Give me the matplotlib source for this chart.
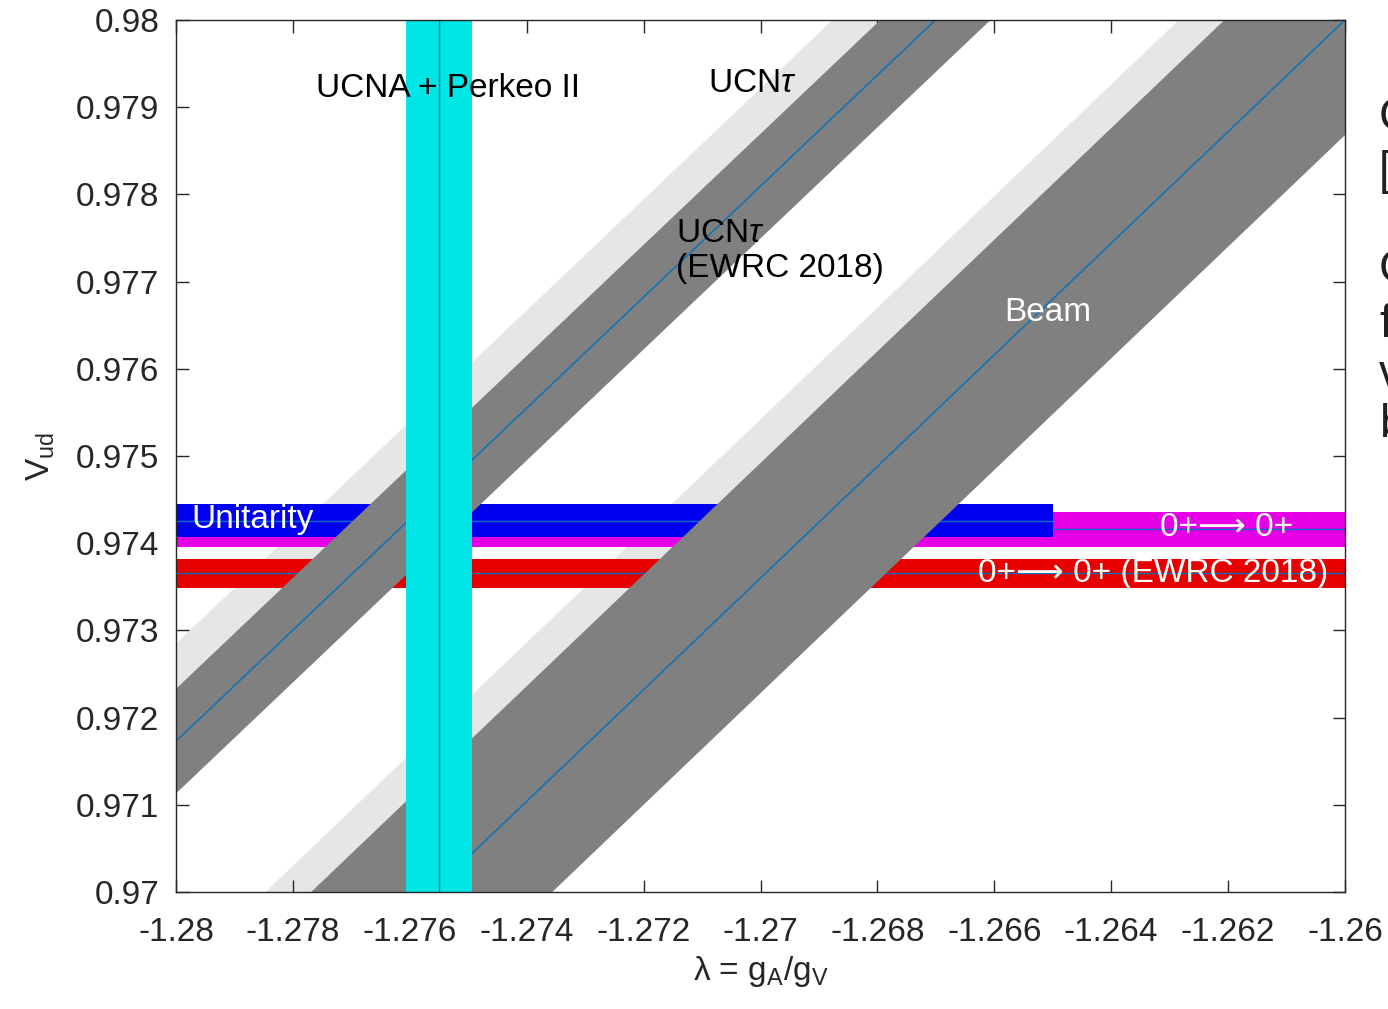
import matplotlib
matplotlib.use('Agg')
import matplotlib.pyplot as plt
from matplotlib.ticker import FuncFormatter, MultipleLocator

plt.rcParams['font.family'] = ['Liberation Sans', 'DejaVu Sans']
plt.rcParams['mathtext.fontset'] = 'custom'
plt.rcParams['mathtext.rm'] = 'Liberation Sans'
plt.rcParams['mathtext.it'] = 'Liberation Sans:italic'
plt.rcParams['axes.unicode_minus'] = False

# lambda range spanned by the diagonal bands
lam_ends = [-1.28, -1.26]

# neutron lifetime bands: Vud along the band centre at the two ends
ucn_center = [0.97173, 0.98446]
ucn_half = 0.0006
ucn_old_shift = 0.00052          # UCNtau with the older radiative correction
beam_center = [0.9672, 0.98]
beam_half = 0.00132
beam_old_shift = 0.0005

# horizontal Vud bands: (centre, half width)
unitarity = (0.97426, 0.00019)
unitarity_lam = [-1.28, -1.265]
superallowed = (0.97416, 0.0002)
superallowed_ewrc = (0.973655, 0.000165)

# lambda from UCNA + Perkeo II
lam_meas = -1.2755
lam_err = 0.00056

dark = '#808080'
light = '#e6e6e6'
line_c = '#0072bd'

fig = plt.figure(figsize=(13.88, 10.09), dpi=100)
ax = fig.add_axes([176 / 1388, 117 / 1009, 1169 / 1388, 872 / 1009])

# light bands sit underneath the horizontal bands
for center, shift, half in [(ucn_center, ucn_old_shift, ucn_half),
                            (beam_center, beam_old_shift, beam_half)]:
    lo = [c + shift - half for c in center]
    hi = [c + shift + half for c in center]
    ax.fill_between(lam_ends, lo, hi, color=light, lw=0, zorder=1)

ax.fill_between(lam_ends, superallowed[0] - superallowed[1],
                superallowed[0] + superallowed[1], color='#e600e6', lw=0, zorder=2)
ax.plot(lam_ends, [superallowed[0]] * 2, color=line_c, lw=1, zorder=2.1)
ax.fill_between(unitarity_lam, unitarity[0] - unitarity[1], unitarity[0] + unitarity[1],
                color='#0000f0', lw=0, zorder=2.2)
ax.plot(unitarity_lam, [unitarity[0]] * 2, color=line_c, lw=1, zorder=2.3)
ax.fill_between(lam_ends, superallowed_ewrc[0] - superallowed_ewrc[1],
                superallowed_ewrc[0] + superallowed_ewrc[1], color='#e60000', lw=0, zorder=2.2)
ax.plot(lam_ends, [superallowed_ewrc[0]] * 2, color=line_c, lw=1, zorder=2.3)

# current lifetime bands on top
for center, half in [(ucn_center, ucn_half), (beam_center, beam_half)]:
    ax.fill_between(lam_ends, [c - half for c in center], [c + half for c in center],
                    color=dark, lw=0, zorder=3)
    ax.plot(lam_ends, center, color=line_c, lw=1, zorder=3.1)

ax.axvspan(lam_meas - lam_err, lam_meas + lam_err, color='#00e5e5', lw=0, zorder=4)
ax.axvline(lam_meas, color=line_c, lw=1, zorder=4.1)

fs = 24
ax.text(-1.2776, 0.97921, 'UCNA + Perkeo II', fontsize=fs, va='center', zorder=5)
ax.text(-1.2709, 0.97927, r'UCN$\tau$', fontsize=fs, va='center', zorder=5)
ax.text(-1.27145, 0.97735, 'UCN$\\tau$\n(EWRC 2018)', fontsize=fs, va='center',
        linespacing=1.15, zorder=5)
ax.text(-1.26583, 0.97664, 'Beam', fontsize=fs, va='center', color='white', zorder=5)
ax.text(-1.27974, 0.97427, 'Unitarity', fontsize=fs, va='center', color='white', zorder=5)
ax.text(-1.26317, 0.97418, '0+\u27f6 0+', fontsize=fs, va='center', color='white', zorder=5)
ax.text(-1.26628, 0.97365, '0+\u27f6 0+ (EWRC 2018)', fontsize=fs, va='center',
        color='white', zorder=5)

ax.set_xlim(-1.28, -1.26)
ax.set_ylim(0.97, 0.98)
ax.xaxis.set_major_locator(MultipleLocator(0.002))
ax.yaxis.set_major_locator(MultipleLocator(0.001))
fmt = FuncFormatter(lambda v, pos: f'{round(v, 4):g}')
ax.xaxis.set_major_formatter(fmt)
ax.yaxis.set_major_formatter(fmt)
ax.tick_params(direction='in', length=9, width=1, colors='#262626', labelsize=fs,
               top=True, right=True)
ax.tick_params(axis='x', pad=18)
ax.tick_params(axis='y', pad=12)
for s in ax.spines.values():
    s.set_color('#262626')
    s.set_linewidth(1)
    s.set_zorder(6)
ax.set_xlabel(r'λ = g$_{\rm A}$/g$_{\rm V}$', fontsize=fs, color='#262626', labelpad=4)
ax.set_ylabel(r'V$_{\rm ud}$', fontsize=fs, color='#262626', labelpad=14)

# slide text running off the right edge
for ch, ypx in [('C', 118), ('[', 172), ('C', 270), ('f', 325), ('v', 375), ('b', 425)]:
    fig.text(1379 / 1388, 1 - ypx / 1009, ch, fontsize=33, va='center', ha='left', color='#202020')

fig.savefig('out.png', dpi=100)
